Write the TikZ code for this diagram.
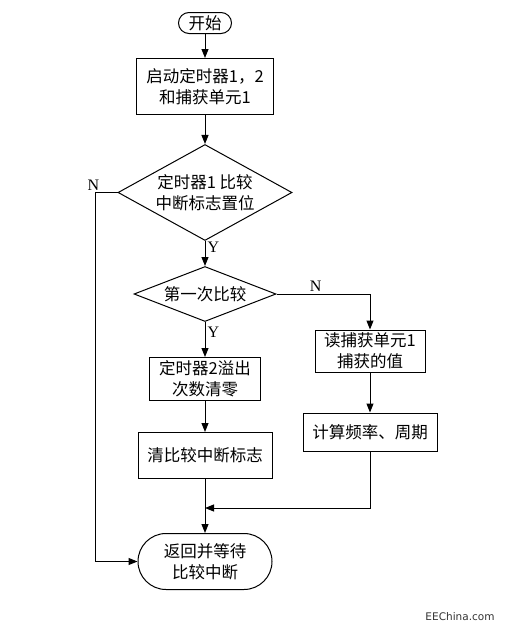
\documentclass[tikz,border=0pt]{standalone}
\usepackage{fontspec}
\setmainfont{Liberation Serif}
\newfontfamily\cjk{Noto Sans CJK SC}
\newfontfamily\webfont{DejaVu Sans}
\usepackage{tikz}
\usetikzlibrary{arrows.meta, positioning, shapes.geometric, shapes.misc}

\begin{document}
\begin{tikzpicture}[
    x=1pt, y=1pt,
    node distance=30pt,
    base/.style={draw, line width=1pt, align=center, font=\cjk\fontsize{16.5}{21}\selectfont},
    box/.style={base, rectangle, inner sep=2pt},
    term/.style={base, rounded rectangle, inner sep=2pt},
    decision/.style={base, diamond, inner sep=0pt},
    arrow/.style={-{Triangle[length=9pt, width=7pt]}, line width=1pt},
    yn/.style={font=\fontsize{16}{16}\selectfont, inner sep=2pt},
    credit/.style={font=\webfont\fontsize{10.5}{12}\selectfont, text=black!80}
]
    \useasboundingbox (0,0) rectangle (506,-629);

    % Start
    \node[term, minimum width=57pt, minimum height=21pt] (start) at (205,-23) {开始};

    % Main column
    \node[box, below=24pt of start, minimum width=137pt, minimum height=56pt] (init) {启动定时器1，2\\和捕获单元1};
    \node[decision, aspect=1.81, below=29pt of init, minimum width=174pt, minimum height=96pt] (cmp) {定时器1 比较\\中断标志置位};
    \node[decision, aspect=2.58, below=25pt of cmp, minimum width=142pt, minimum height=55pt] (first) {第一次比较};
    \node[box, below=35pt of first, minimum width=111pt, minimum height=43pt] (clrcnt) {定时器2溢出\\次数清零};
    \node[box, below=31pt of clrcnt, minimum width=134pt, minimum height=46pt] (clrflag) {清比较中断标志};

    % Right column
    \node[box, minimum width=110pt, minimum height=42pt] (read) at (370,-351) {读捕获单元1\\捕获的值};
    \node[box, below=40pt of read, minimum width=134pt, minimum height=38pt] (calc) {计算频率、周期};

    % End
    \node[term, below=54pt of clrflag, minimum width=138pt, minimum height=56pt] (ret) {返回并等待\\比较中断};
    \coordinate[below=29pt of clrflag.south] (join);

    % Arrows
    \draw[arrow] (start) -- (init);
    \draw[arrow] (init) -- (cmp);
    \draw[arrow] (cmp) -- (first) node[yn, pos=0.25, right] {Y};
    \draw[arrow] (first) -- (clrcnt) node[yn, pos=0.3, right] {Y};
    \draw[arrow] (first.east) -| (read.north) node[yn, pos=0.21, above] {N};
    \draw[arrow] (clrcnt) -- (clrflag);
    \draw[arrow] (clrflag) -- (ret);
    \draw[arrow] (read) -- (calc);
    \draw[arrow] (calc.south) |- (join);

    % No flag: straight back
    \draw[arrow] (cmp.west) -- ++(-22,0) node[yn, above, xshift=-2pt] {N} |- (ret.west);

    \node[credit] (site) at (460,-617) {EEChina.com};
\end{tikzpicture}
\end{document}
